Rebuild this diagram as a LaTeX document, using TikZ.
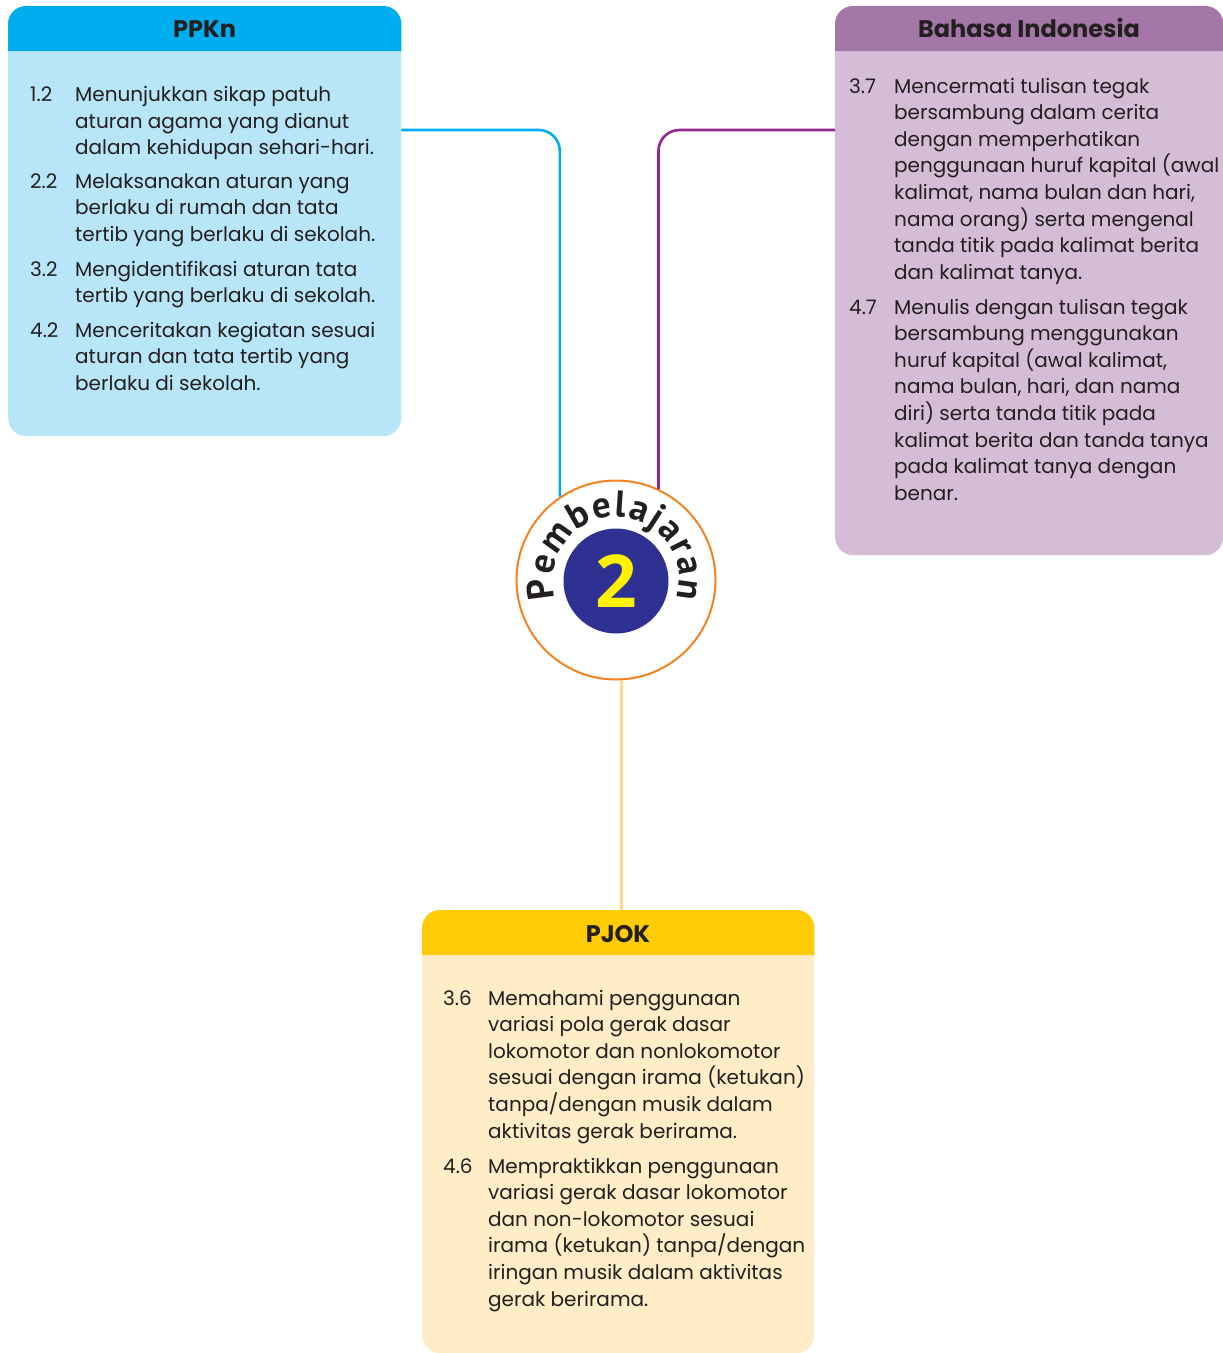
\documentclass[tikz,border=0pt]{standalone}
\usepackage{fontspec}
\setmainfont{Poppins}
\newfontfamily\arcfont{Open Sans}
\newfontfamily\ringfont{PT Sans}
\usetikzlibrary{decorations.text}
\definecolor{txt}{HTML}{231F20}
\definecolor{ppkhead}{HTML}{00AEEF}
\definecolor{ppkbody}{HTML}{B9E5F9}
\definecolor{bhshead}{HTML}{A577A8}
\definecolor{bhsbody}{HTML}{D5BDD7}
\definecolor{pjkhead}{HTML}{FFCB05}
\definecolor{pjkbody}{HTML}{FEEDC7}
\definecolor{lnppk}{HTML}{00AEEF}
\definecolor{lnbhs}{HTML}{92278F}
\definecolor{lnpjk}{HTML}{FDD98C}
\definecolor{ring}{HTML}{F58220}
\definecolor{navy}{HTML}{2E3192}
\definecolor{yel}{HTML}{FFF200}
\newcommand\kd[2]{\parbox[t]{600pt}{\fontsize{20}{26.6}\selectfont\hangindent=45pt\hangafter=1\noindent\makebox[45pt][l]{#1}#2}}
\tikzset{
  box/.style={rectangle, rounded corners=18, inner sep=0, anchor=north west},
  item/.style={anchor=base west, inner sep=0, text=txt},
  title/.style={anchor=base, inner sep=0, text=txt, font=\bfseries\fontsize{24}{24}\selectfont},
  link/.style={line width=2.6},
}
\begin{document}
\begin{tikzpicture}[x=1pt,y=1pt]
\useasboundingbox (0,0) rectangle (1223,-1353);
% boxes
\node[box, fill=ppkbody, minimum width=393, minimum height=430] (ppkn) at (8,-6) {};
\node[box, fill=bhsbody, minimum width=388, minimum height=549] (bhs) at (835,-6) {};
\node[box, fill=pjkbody, minimum width=392, minimum height=443] (pjok) at (422,-910) {};
% headers
\fill[ppkhead] (ppkn.north west) ++(0,-45) [rounded corners=18] -- (ppkn.north west) -- (ppkn.north east) [sharp corners] -- ++(0,-45) -- cycle;
\fill[bhshead] (bhs.north west) ++(0,-45) [rounded corners=18] -- (bhs.north west) -- (bhs.north east) [sharp corners] -- ++(0,-45) -- cycle;
\fill[pjkhead] (pjok.north west) ++(0,-45) [rounded corners=18] -- (pjok.north west) -- (pjok.north east) [sharp corners] -- ++(0,-45) -- cycle;
\node[title] (ppknt) at (204.5,-37) {PPKn};
\node[title] (bhst) at (1029,-37) {Bahasa Indonesia};
\node[title] (pjokt) at (618,-942) {PJOK};
% hub
\node[circle, draw=ring, line width=2, fill=white, minimum size=199, inner sep=0] (hub) at (616,-580) {};
\node[circle, fill=navy, minimum size=105, inner sep=0, text=yel, font=\arcfont\bfseries\fontsize{73}{73}\selectfont] (num) at (616,-581) {2};
\path[decorate, decoration={text along path, text={|\ringfont\bfseries\fontsize{37}{37}\selectfont\color{txt}|Pembelajaran}, text align=fit to path}] (hub.center) ++(197:63) arc[start angle=197, end angle=-17, radius=63];
% connectors
\draw[link, lnppk, rounded corners=21] (ppkn.north east) ++(0,-124) -| (hub.124);
\draw[link, lnbhs, rounded corners=21] (bhs.north west) ++(0,-124) -| (hub.65);
\draw[link, lnpjk] (hub.-87.4) -- (hub.-87.4 |- pjok.north);
% items
\node[item] (p12) at (30,-101.5) {\kd{1.2}{Menunjukkan sikap patuh\\aturan agama yang dianut\\dalam kehidupan sehari-hari.}};
\node[item] (p22) at (30,-188) {\kd{2.2}{Melaksanakan aturan yang\\berlaku di rumah dan tata\\tertib yang berlaku di sekolah.}};
\node[item] (p32) at (30,-276) {\kd{3.2}{Mengidentifikasi aturan tata\\tertib yang berlaku di sekolah.}};
\node[item] (p42) at (30,-337) {\kd{4.2}{Menceritakan kegiatan sesuai\\aturan dan tata tertib yang\\berlaku di sekolah.}};
\node[item] (b37) at (849,-93) {\kd{3.7}{Mencermati tulisan tegak\\bersambung dalam cerita\\dengan memperhatikan\\penggunaan huruf kapital (awal\\kalimat, nama bulan dan hari,\\nama orang) serta mengenal\\tanda titik pada kalimat berita\\dan kalimat tanya.}};
\node[item] (b47) at (849,-314) {\kd{4.7}{Menulis dengan tulisan tegak\\bersambung menggunakan\\huruf kapital (awal kalimat,\\nama bulan, hari, dan nama\\diri) serta tanda titik pada\\kalimat berita dan tanda tanya\\pada kalimat tanya dengan\\benar.}};
\node[item] (j36) at (443,-1005) {\kd{3.6}{Memahami penggunaan\\variasi pola gerak dasar\\lokomotor dan nonlokomotor\\sesuai dengan irama (ketukan)\\tanpa/dengan musik dalam\\aktivitas gerak berirama.}};
\node[item] (j46) at (443,-1173) {\kd{4.6}{Mempraktikkan penggunaan\\variasi gerak dasar lokomotor\\dan non-lokomotor sesuai\\irama (ketukan) tanpa/dengan\\iringan musik dalam aktivitas\\gerak berirama.}};
\end{tikzpicture}
\end{document}
